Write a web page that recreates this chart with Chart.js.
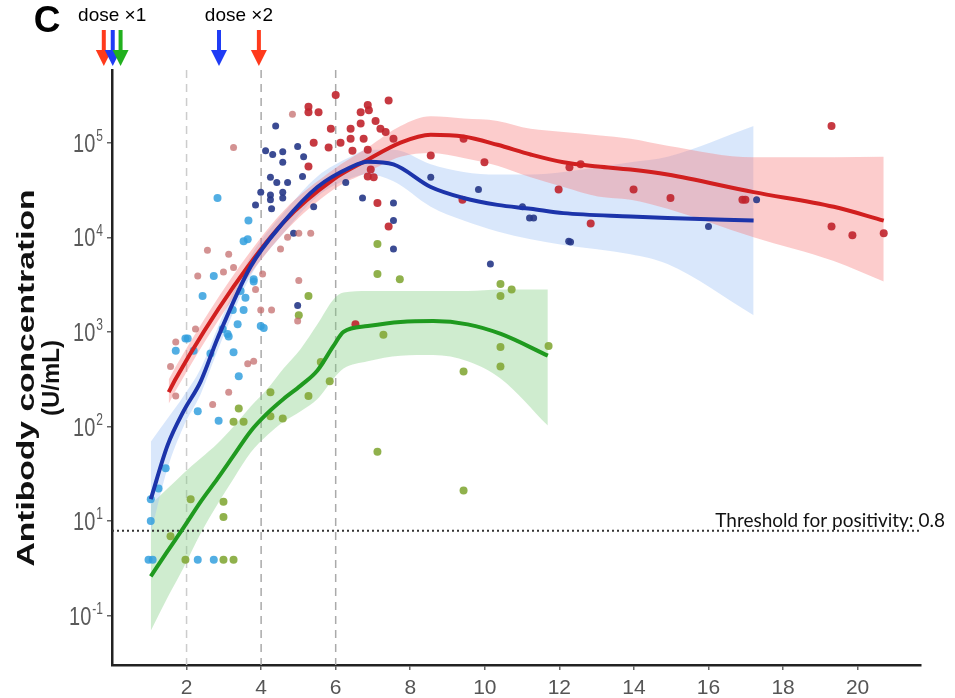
<!DOCTYPE html>
<html>
<head>
<meta charset="utf-8">
<script src="https://cdn.jsdelivr.net/npm/chart.js@4.4.0/dist/chart.umd.min.js"></script>
<style>
html, body { margin: 0; padding: 0; background: #fff; }
canvas { display: block; }
</style>
</head>
<body>
<canvas id="myChart" width="955" height="698"></canvas>
<script>
// axis ticks
const xTicks = [2, 4, 6, 8, 10, 12, 14, 16, 18, 20]
const yTicks = [1, 10, 100, 1000, 10000, 100000]
const yTickExp = ['-1', '1', '2', '3', '4', '5']   // printed exponents, as in the figure
const dashedWeeks = [2, 4, 6]
const thresholdY = 7.9
const thresholdText = 'Threshold for positivity: 0.8'

// dose arrows (week, colour)
const dose1 = [[-0.22, '#ff3a1c'], [0.02, '#1f3cf5'], [0.23, '#22b01e']]
const dose2 = [[2.87, '#1f3cf5'], [3.94, '#ff3a1c']]

// scatter points [week, U/mL]
const redPts = [[5.27,2.4e5],[5.27,2.1e5],[5.54,2.1e5],[6.00,3.2e5],[7.42,2.8e5],[6.86,2.5e5],[6.67,2.1e5],[6.89,2.2e5],
  [5.87,1.4e5],[6.40,1.4e5],[6.67,1.6e5],[7.07,1.7e5],[7.20,1.4e5],[7.34,1.3e5],[5.41,1.0e5],[6.13,1.0e5],[6.40,1.1e5],
  [6.75,1.1e5],[5.81,8.9e4],[6.45,8.2e4],[6.86,8.4e4],[7.55,1.1e5],[6.94,5.2e4],[6.86,4.4e4],[7.02,4.3e4],[5.27,5.6e4],
  [7.12,2.3e4],[7.42,1.3e4],[8.55,7.3e4],[9.43,1.1e5],[9.99,6.2e4],[9.40,2.5e4],[12.27,5.5e4],[12.57,5.9e4],[11.98,3.2e4],
  [12.84,1.4e4],[13.99,3.2e4],[14.98,2.6e4],[16.91,2.5e4],[16.99,2.5e4],[19.30,1.5e5],[19.30,1.3e4],[19.86,1.05e4],
  [20.70,1.1e4],[6.53,1.2e3]]
const rosePts = [[3.26,8.9e4],[4.84,2.0e5],[2.56,7.3e3],[3.13,6.6e3],[2.99,4.3e3],[3.26,4.8e3],[2.30,3.9e3],[5.01,3.5e3],
  [5.33,1.1e4],[5.01,1.1e4],[4.71,1.0e4],[3.99,1.7e3],[4.28,1.7e3],[4.98,1.3e3],[2.24,1.07e3],[1.71,780],[1.57,430],
  [1.71,210],[2.70,170],[3.13,230],[3.64,460],[3.80,490],[3.85,2.8e3],[4.04,4.1e3],[4.52,7.5e3]]
const navyPts = [[4.39,1.5e5],[4.12,8.2e4],[4.31,7.5e4],[4.58,8.0e4],[4.98,9.1e4],[5.14,7.1e4],[4.58,6.2e4],[5.11,4.4e4],
  [4.25,4.3e4],[4.42,3.8e4],[4.71,3.8e4],[3.99,3.0e4],[4.25,2.8e4],[4.58,3.0e4],[4.25,2.5e4],[4.58,2.6e4],[3.85,2.2e4],
  [4.28,2.0e4],[5.41,2.1e4],[4.87,1.1e4],[6.27,3.8e4],[6.72,2.6e4],[7.55,2.3e4],[7.55,1.5e4],[7.55,7.5e3],[4.98,1.9e3],
  [10.15,5.2e3],[9.83,3.2e4],[8.55,4.3e4],[11.01,2.1e4],[11.20,1.6e4],[11.31,1.6e4],[12.25,9.1e3],[12.30,8.9e3],
  [16.00,1.3e4],[17.29,2.5e4]]
const skyPts = [[2.83,2.6e4],[3.66,1.5e4],[3.64,9.5e3],[3.53,9.1e3],[2.73,3.9e3],[2.43,2.4e3],[3.80,3.6e3],[3.80,3.4e3],
  [3.58,2.3e3],[3.53,1.7e3],[3.99,1.15e3],[4.07,1.1e3],[1.97,850],[1.71,630],[2.03,850],[2.19,630],[3.10,950],[3.13,890],
  [3.26,610],[3.40,340],[2.30,145],[2.86,115],[0.98,3.9],[1.09,3.9],[2.30,3.9],[2.73,3.9],[1.04,10],[1.04,17],[3.37,1.2e3],
  [2.64,590],[2.97,1.07e3],[3.24,1.7e3],[3.45,2.7e3],[1.44,36],[1.25,22]]
const greenPts = [[2.11,17],[2.99,16],[2.99,11],[1.57,6.9],[1.97,3.9],[2.99,3.9],[3.26,3.9],[3.40,155],[3.26,112],[3.53,112],
  [4.25,230],[4.25,128],[4.58,121],[5.27,210],[5.60,480],[5.84,300],[7.28,930],[7.12,54],[9.43,380],[9.43,21],[10.42,690],
  [10.42,430],[11.71,710],[7.12,8.5e3],[7.12,4.1e3],[7.72,3.6e3],[10.42,3.2e3],[10.42,2.4e3],[10.72,2.8e3],[5.27,2.4e3],[5.01,1.5e3]]

// smoothed fits and confidence bands
const redX = [1.52,1.71,3.26,4.60,5.94,6.86,7.74,8.55,9.43,10.34,11.23,12.11,13.03,13.91,14.90,17.21,19.36,20.70]
const redFit = [230,320,3.0e3,1.44e4,4.1e4,6.6e4,1.0e5,1.21e5,1.16e5,9.5e4,7.5e4,6.2e4,5.6e4,5.2e4,4.6e4,3.0e4,2.1e4,1.5e4]
const redHi = [313,430,4.0e3,1.9e4,5.2e4,8.9e4,1.5e5,1.9e5,1.8e5,1.7e5,1.4e5,1.3e5,1.2e5,1.1e5,9.3e4,7.0e4,7.0e4,7.1e4]
const redLo = [174,240,2.3e3,1.1e4,3.2e4,4.9e4,7.1e4,7.8e4,6.9e4,5.7e4,4.3e4,3.4e4,2.7e4,2.5e4,2.0e4,1.0e4,5.6e3,3.4e3]

const blueX = [1.04,1.49,1.92,2.38,2.83,3.72,4.60,5.51,6.40,6.86,7.55,8.55,9.43,10.34,11.23,12.11,13.91,14.90,17.21]
const blueFit = [17,63,145,300,850,4.9e3,1.44e4,3.4e4,5.5e4,6.3e4,5.9e4,3.4e4,2.6e4,2.2e4,2.0e4,1.8e4,1.66e4,1.6e4,1.5e4]
const blueHi = [69,121,210,410,1.1e3,6.3e3,1.8e4,4.4e4,7.1e4,8.4e4,8.4e4,5.9e4,4.9e4,4.6e4,4.6e4,4.9e4,6.2e4,7.1e4,1.5e5]
const blueLo = [7.4,36,100,220,630,3.9e3,1.1e4,2.7e4,4.2e4,4.6e4,3.9e4,2.1e4,1.5e4,1.15e4,9.5e3,8.3e3,6.6e3,5.2e3,1.5e3]

const greenX = [1.04,1.49,1.92,2.38,2.83,3.26,3.72,4.17,4.60,5.06,5.51,5.94,6.21,6.86,7.74,8.62,9.54,10.43,11.69]
const greenFit = [2.6,4.8,8.5,16,28,49,89,138,195,270,390,710,1.0e3,1.15e3,1.27e3,1.3e3,1.2e3,950,560]
const greenHi = [15,22,32,46,66,100,162,250,410,660,1.2e3,2.2e3,2.6e3,2.7e3,2.7e3,2.7e3,2.7e3,2.8e3,2.8e3]
const greenLo = [0.69,1.55,3.2,7.4,15,28,53,81,112,145,195,320,410,490,560,570,490,320,102]

const FONT = 'Arial, "Liberation Sans", sans-serif'

const xy = (xs, ys) => xs.map((x, i) => ({ x: x, y: ys[i] }))
const pts = arr => arr.map(p => ({ x: p[0], y: p[1] }))

const band = (xs, ys, color, fill) => ({
	data: xy(xs, ys), borderWidth: 0, pointRadius: 0, backgroundColor: color,
	fill: fill, cubicInterpolationMode: 'monotone', order: 10
})
const fit = (xs, ys, color) => ({
	data: xy(xs, ys), borderColor: color, borderWidth: 4, pointRadius: 0,
	fill: false, cubicInterpolationMode: 'monotone', order: 1
})
const dots = (arr, color, r) => ({
	data: pts(arr), showLine: false, pointRadius: r, pointBorderWidth: 0,
	pointBackgroundColor: color, order: 5
})

const datasets = [
	band(redX, redHi, 'rgba(248,120,120,0.38)', '+1'),
	band(redX, redLo, 'rgba(248,120,120,0.38)', false),
	band(blueX, blueHi, 'rgba(160,195,245,0.40)', '+1'),
	band(blueX, blueLo, 'rgba(160,195,245,0.40)', false),
	band(greenX, greenHi, 'rgba(130,205,130,0.38)', '+1'),
	band(greenX, greenLo, 'rgba(130,205,130,0.38)', false),
	dots(rosePts, 'rgba(196,110,110,0.75)', 3.5),
	dots(skyPts, 'rgba(52,160,222,0.85)', 4),
	dots(navyPts, 'rgba(38,55,135,0.9)', 3.5),
	dots(redPts, 'rgba(192,36,44,0.9)', 4),
	dots(greenPts, 'rgba(132,168,56,0.9)', 4),
	{ data: [{ x: 0, y: thresholdY }, { x: 21.7, y: thresholdY }], borderColor: '#333', borderWidth: 2,
	  borderDash: [2, 3], pointRadius: 0, fill: false, order: 4 },
	fit(greenX, greenFit, '#1f9a1f'),
	fit(blueX, blueFit, '#1c34aa'),
	fit(redX, redFit, '#d11f1f')
]

const drawArrow = (ctx, px, color) => {
	ctx.fillStyle = color
	ctx.fillRect(px - 2, 30, 4, 22)
	ctx.beginPath()
	ctx.moveTo(px - 8, 50); ctx.lineTo(px + 8, 50); ctx.lineTo(px, 66)
	ctx.closePath(); ctx.fill()
}

const annotate = {
	id: 'annotate',
	beforeDatasetsDraw(c) {
		const ctx = c.ctx, a = c.chartArea, x = c.scales.x
		ctx.save()
		ctx.lineWidth = 1.5
		ctx.setLineDash([8, 6])
		dashedWeeks.forEach((w, i) => {
			const px = x.getPixelForValue(w)
			ctx.strokeStyle = i === 0 ? '#cccccc' : '#aaaaaa'
			ctx.beginPath(); ctx.moveTo(px, a.top); ctx.lineTo(px, a.bottom); ctx.stroke()
		})
		ctx.restore()
	},
	afterDraw(c) {
		const ctx = c.ctx, x = c.scales.x, y = c.scales.y
		ctx.save()
		// y tick labels 10^n (figure is stretched vertically)
		yTicks.forEach((v, i) => {
			const py = y.getPixelForValue(v)
			ctx.save()
			ctx.translate(103, py + 2)
			ctx.scale(1, 1.3)
			ctx.fillStyle = '#5a5a5a'
			ctx.font = '12px ' + FONT
			const sw = ctx.measureText(yTickExp[i]).width
			ctx.textAlign = 'left'; ctx.textBaseline = 'middle'
			ctx.fillText(yTickExp[i], -sw, -6)
			ctx.font = '20px ' + FONT
			ctx.textAlign = 'right'
			ctx.fillText('10', -sw - 1, 0)
			ctx.restore()
		})
		// y title
		ctx.fillStyle = '#111'
		ctx.font = 'bold 24px ' + FONT
		ctx.textAlign = 'center'; ctx.textBaseline = 'middle'
		;[['Antibody concentration', 27, 1.4], ['(U/mL)', 52, 1.0]].forEach(t => {
			ctx.save()
			ctx.translate(t[1], 378)
			ctx.rotate(-Math.PI / 2)
			ctx.scale(t[2], 1)
			ctx.fillText(t[0], 0, 0)
			ctx.restore()
		})
		// panel letter and dose labels
		ctx.fillStyle = '#000'
		ctx.font = 'bold 37px ' + FONT
		ctx.fillText('C', 47, 22)
		ctx.font = '19px ' + FONT
		const g1 = dose1.map(d => x.getPixelForValue(d[0]))
		const g2 = dose2.map(d => x.getPixelForValue(d[0]))
		ctx.fillText('dose \u00d71', (g1[0] + g1[2]) / 2, 16)
		ctx.fillText('dose \u00d72', (g2[0] + g2[1]) / 2, 16)
		dose1.forEach((d, i) => drawArrow(ctx, g1[i], d[1]))
		dose2.forEach((d, i) => drawArrow(ctx, g2[i], d[1]))
		// threshold label
		ctx.fillStyle = '#111'
		ctx.font = '19px Lato, "Open Sans", sans-serif'
		ctx.textAlign = 'right'; ctx.textBaseline = 'alphabetic'
		ctx.fillText(thresholdText, 945, y.getPixelForValue(thresholdY) - 4)
		ctx.restore()
	}
}

let ctx = document.getElementById('myChart').getContext('2d')
let myChart = new Chart(ctx, {
	type: 'line',
	data: { datasets: datasets },
	plugins: [annotate],
	options: {
		responsive: false,
		animation: false,
		layout: { padding: { top: 70, right: 34, left: 0, bottom: 0 } },
		plugins: { legend: { display: false }, tooltip: { enabled: false } },
		scales: {
			x: {
				type: 'linear', min: 0, max: 21.7,
				afterBuildTicks: s => { s.ticks = xTicks.map(v => ({ value: v })) },
				afterFit: s => { s.height = 33 },
				grid: { display: true, drawOnChartArea: false, drawTicks: true, tickLength: 5, color: '#666', lineWidth: 1.5 },
				border: { display: true, color: '#222', width: 2.5 },
				ticks: { color: '#555', font: { family: FONT, size: 21 }, padding: 6, maxRotation: 0, autoSkip: false }
			},
			y: {
				type: 'logarithmic', min: 0.32, max: 5.87e5,
				afterBuildTicks: s => { s.ticks = yTicks.map(v => ({ value: v })) },
				afterFit: s => { s.width = 112 },
				grid: { display: true, drawOnChartArea: false, drawTicks: true, tickLength: 5, color: '#666', lineWidth: 1.5 },
				border: { display: true, color: '#222', width: 2.5 },
				ticks: { display: false }
			}
		}
	}
})
</script>
</body>
</html>
